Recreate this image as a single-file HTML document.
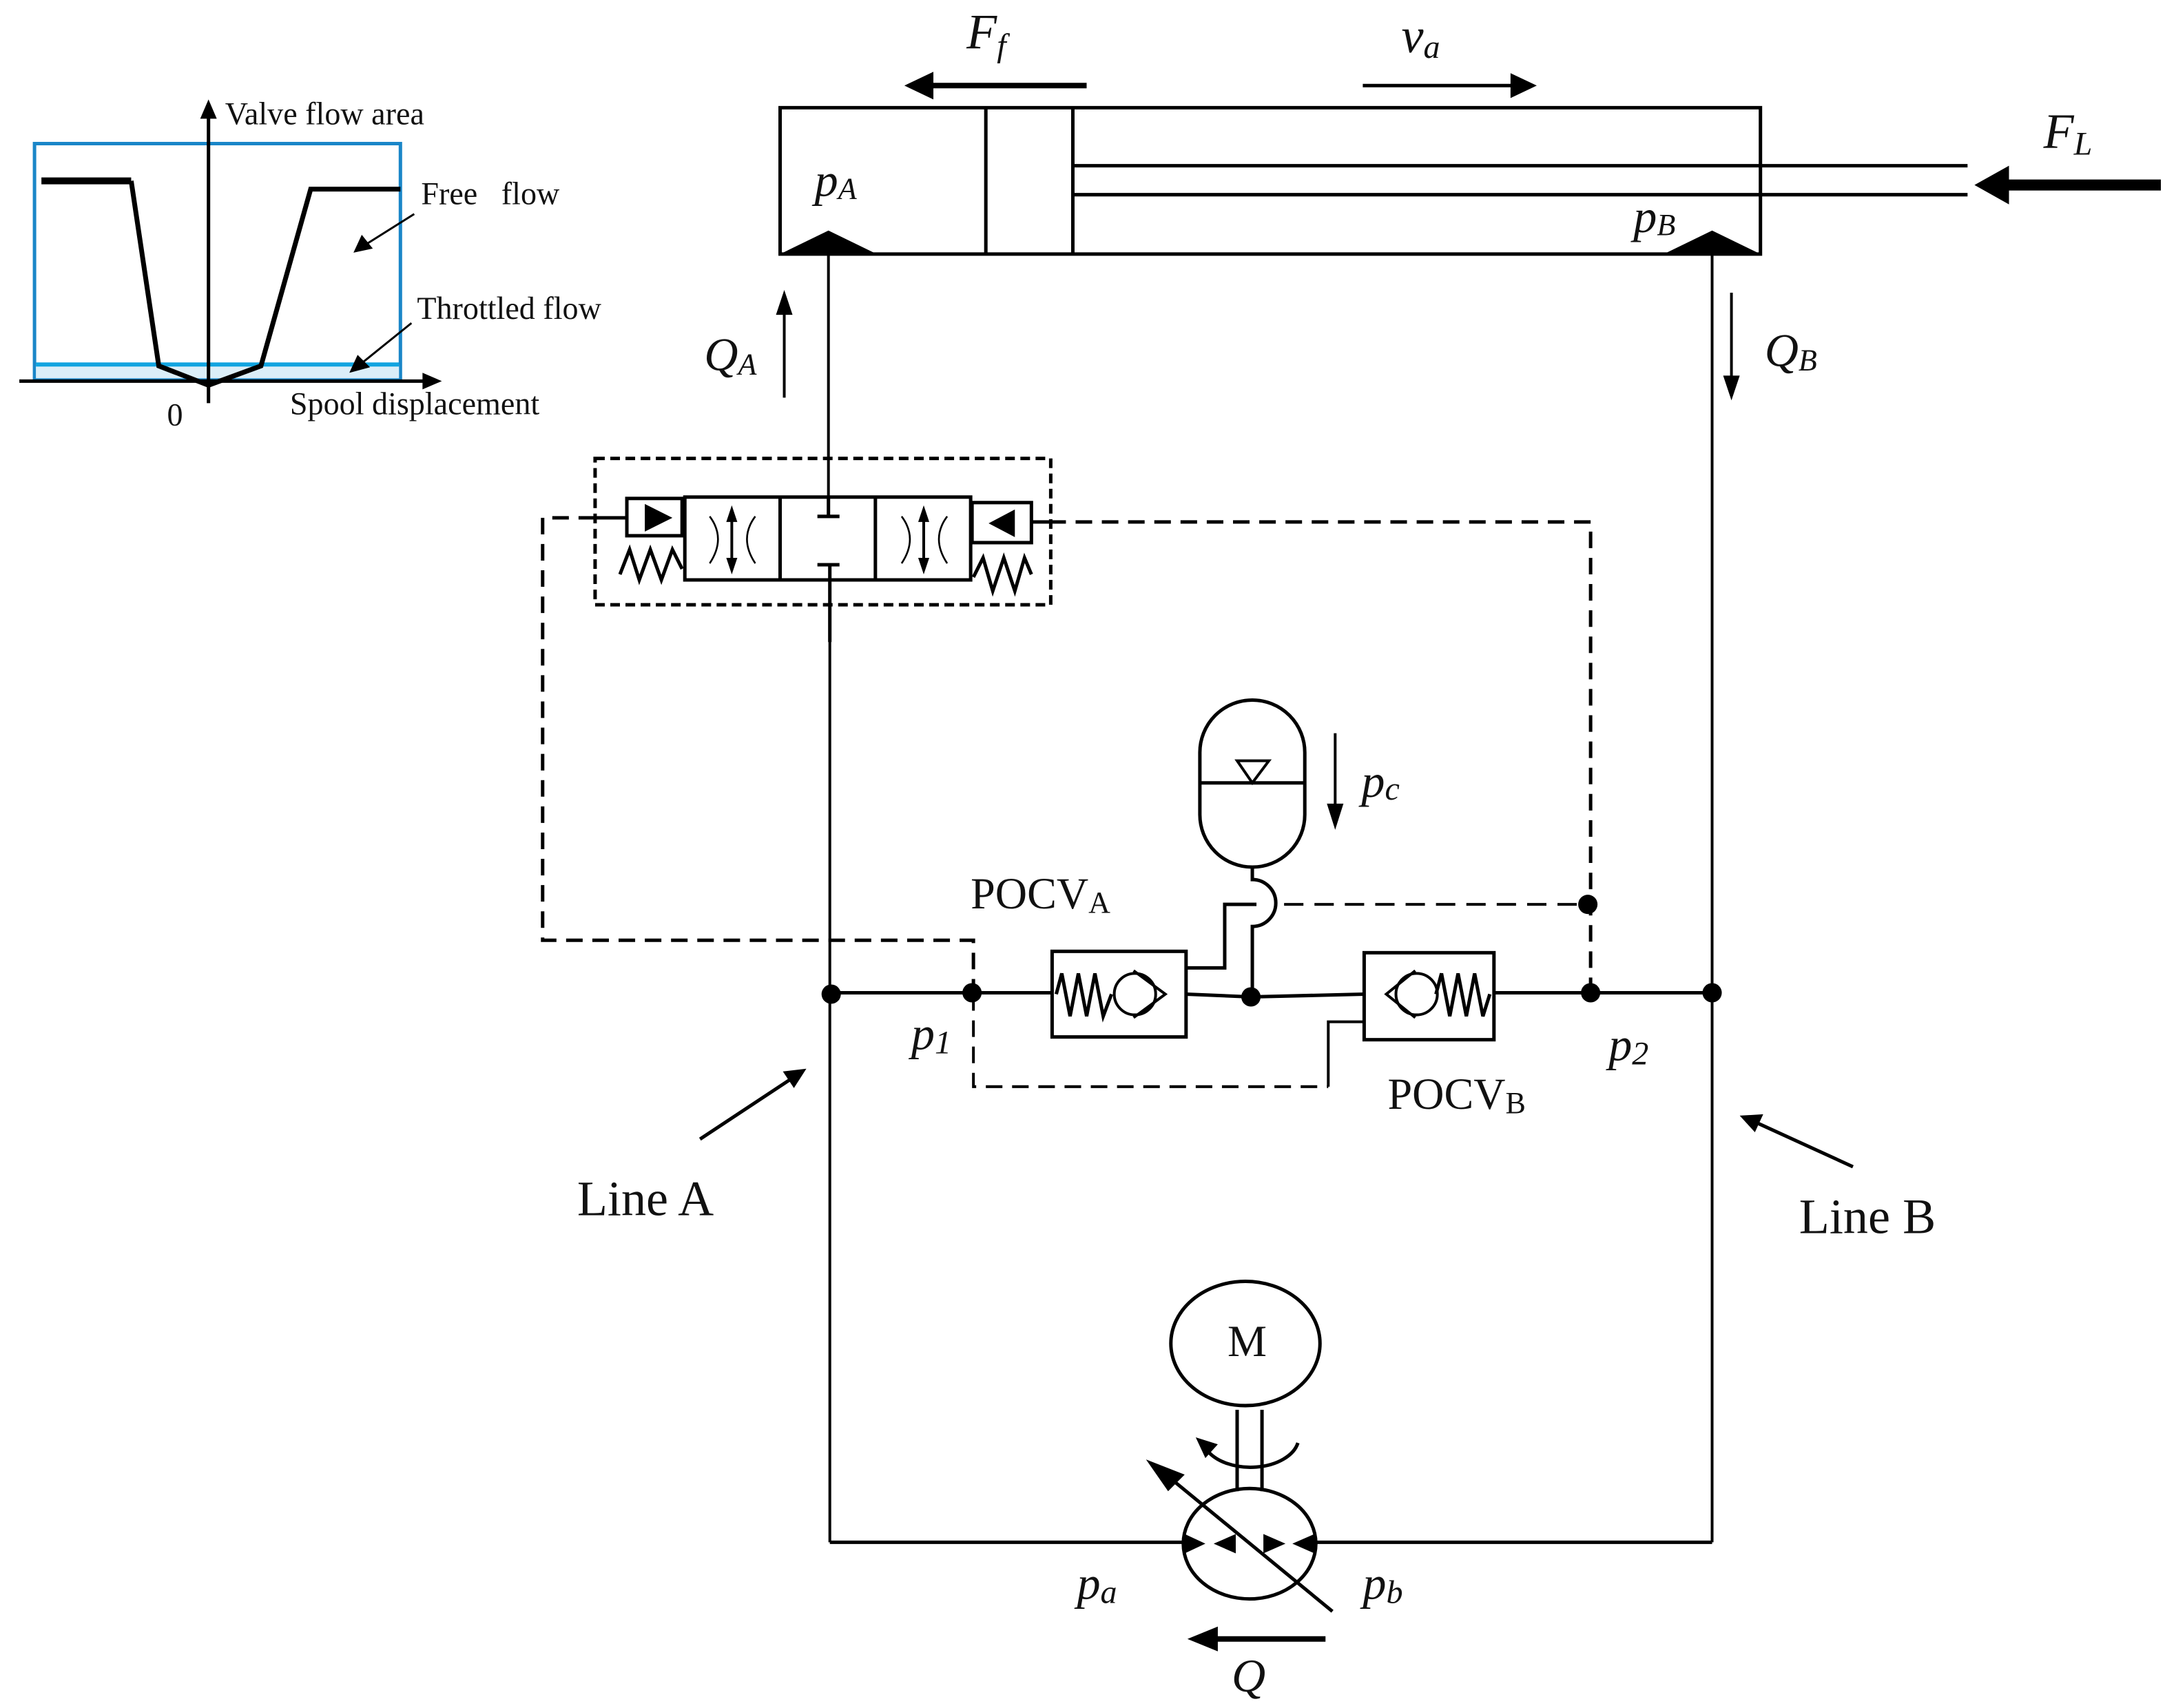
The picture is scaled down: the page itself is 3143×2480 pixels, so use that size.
<!DOCTYPE html>
<html><head><meta charset="utf-8"><style>
html,body{margin:0;padding:0;background:#fff;}
svg{display:block;}
text{font-family:"Liberation Serif",serif;fill:#111;}
.i{font-style:italic;}
</style></head><body>
<svg width="3143" height="2480" viewBox="0 0 1568 1237" preserveAspectRatio="none" xmlns="http://www.w3.org/2000/svg">
<rect width="1568" height="1237" fill="#fff"/>
<g stroke="#000" fill="none" stroke-width="2.5">
<!-- inset graph -->
<rect x="25" y="104" width="265" height="171" stroke="#1a86c8" stroke-width="2.5"/>
<rect x="26" y="264" width="263" height="10" fill="#dbeef8" stroke="none"/>
<line x1="26" y1="264" x2="289" y2="264" stroke="#11a4e0" stroke-width="3"/>
<line x1="151" y1="292" x2="151" y2="82"/>
<path d="M145,86 L151,72 L157,86 z" fill="#000" stroke="none"/>
<line x1="14" y1="276" x2="312" y2="276"/>
<path d="M306,270 L320,276 L306,282 z" fill="#000" stroke="none"/>
<path d="M30,131 L95,131" stroke-width="5"/>
<path d="M95,131 L115,265 L151,279 L189,265 L225,137 L290,137" stroke-width="3.5"/>
<line x1="300" y1="155" x2="265" y2="177" stroke-width="1.5"/>
<path d="M256,183 L262,170 L270,180 z" fill="#000" stroke="none"/>
<line x1="298" y1="234" x2="262" y2="263" stroke-width="1.5"/>
<path d="M253,270 L259,257 L268,266 z" fill="#000" stroke="none"/>

<!-- cylinder -->
<rect x="565" y="78" width="710" height="106" stroke-width="2.5"/>
<line x1="714" y1="78" x2="714" y2="184"/>
<line x1="777" y1="78" x2="777" y2="184"/>
<line x1="777" y1="120" x2="1425" y2="120"/>
<line x1="777" y1="141" x2="1425" y2="141"/>
<path d="M565,184 L600,167 L635,184 z" fill="#000" stroke="none"/>
<path d="M1205,184 L1240,167 L1275,184 z" fill="#000" stroke="none"/>
<!-- force arrows -->
<line x1="787" y1="62" x2="672" y2="62" stroke-width="4"/>
<path d="M676,52 L655,62 L676,72 z" fill="#000" stroke="none"/>
<line x1="987" y1="62" x2="1098" y2="62" stroke-width="2.5"/>
<path d="M1094,53 L1113,62 L1094,71 z" fill="#000" stroke="none"/>
<line x1="1565" y1="134" x2="1450" y2="134" stroke-width="8"/>
<path d="M1455,120 L1430,134 L1455,148 z" fill="#000" stroke="none"/>
<line x1="568" y1="288" x2="568" y2="225" stroke-width="2"/>
<path d="M562,228 L568,210 L574,228 z" fill="#000" stroke="none"/>
<line x1="1254" y1="212" x2="1254" y2="275" stroke-width="2"/>
<path d="M1248,272 L1254,290 L1260,272 z" fill="#000" stroke="none"/>

<!-- main lines -->
<line x1="600" y1="184" x2="600" y2="360" stroke-width="2"/>
<line x1="601" y1="409" x2="601" y2="1117" stroke-width="2"/>
<line x1="1240" y1="184" x2="1240" y2="1117" stroke-width="2"/>
<line x1="601" y1="1117" x2="858" y2="1117" stroke-width="2.5"/>
<line x1="952" y1="1117" x2="1240" y2="1117" stroke-width="2.5"/>
<line x1="601" y1="719" x2="762" y2="719"/>
<line x1="859" y1="720" x2="906" y2="722"/>
<line x1="906" y1="722" x2="988" y2="720"/>
<line x1="1082" y1="719" x2="1240" y2="719"/>

<!-- valve -->
<rect x="431" y="332" width="330" height="106" stroke-dasharray="7,4" stroke-width="2.5"/>
<rect x="454" y="361" width="40" height="27"/>
<path d="M467,365 L487,375 L467,385 z" fill="#000" stroke="none"/>
<path d="M449,416 L456,398 L463,420 L471,398 L479,420 L487,398 L494,412"/>
<rect x="496" y="360" width="207" height="60"/>
<line x1="565" y1="360" x2="565" y2="420"/>
<line x1="634" y1="360" x2="634" y2="420"/>
<line x1="530" y1="370" x2="530" y2="412" stroke-width="2"/>
<path d="M526,378 L530,366 L534,378 z M526,404 L530,416 L534,404 z" fill="#000" stroke="none"/>
<path d="M514,374 Q526,390 514,408 M547,374 Q535,390 547,408" stroke-width="1.3"/>
<line x1="669" y1="370" x2="669" y2="412" stroke-width="2"/>
<path d="M665,378 L669,366 L673,378 z M665,404 L669,416 L673,404 z" fill="#000" stroke="none"/>
<path d="M653,374 Q665,390 653,408 M686,374 Q674,390 686,408" stroke-width="1.3"/>
<line x1="600" y1="360" x2="600" y2="374"/>
<line x1="592" y1="374" x2="608" y2="374"/>
<line x1="592" y1="409" x2="608" y2="409"/>
<line x1="601" y1="409" x2="601" y2="465"/>
<rect x="704" y="364" width="43" height="29"/>
<path d="M735,369 L716,379 L735,389 z" fill="#000" stroke="none"/>
<path d="M705,418 L712,404 L719,428 L727,404 L735,428 L742,404 L747,416"/>
<line x1="431" y1="375" x2="454" y2="375"/>
<line x1="747" y1="378" x2="760" y2="378"/>
<!-- pilot dashed -->
<path d="M431,375 L393,375 L393,681 L705,681 L705,718" stroke-dasharray="12,7" stroke-width="2.5"/>
<path d="M760,378 L1152,378 L1152,718" stroke-dasharray="12,7" stroke-width="2.5"/>
<path d="M705,720 L705,787 L962,787" stroke-dasharray="12,7" stroke-width="2"/>
<path d="M962,787 L962,740 L988,740" stroke-width="2"/>
<line x1="930" y1="655" x2="1150" y2="655" stroke-dasharray="14,8" stroke-width="2"/>

<!-- accumulator -->
<path d="M869,545 L869,590 A38,38 0 0 0 945,590 L945,545 A38,38 0 0 0 869,545 z"/>
<line x1="869" y1="567" x2="945" y2="567"/>
<path d="M896,551 L919,551 L907,567 z" stroke-width="2"/>
<line x1="967" y1="531" x2="967" y2="585" stroke-width="2"/>
<path d="M961,582 L967,601 L973,582 z" fill="#000" stroke="none"/>
<path d="M907,628 L907,637 A17,17 0 0 1 907,671 L907,722" stroke-width="2.5"/>
<path d="M859,701 L887,701 L887,655 L910,655" stroke-width="2.5"/>

<!-- POCV A -->
<rect x="762" y="689" width="97" height="62"/>
<path d="M765,720 L769,705 L775,736 L781,705 L787,736 L793,705 L799,736 L805,720"/>
<circle cx="822" cy="720" r="15" stroke-width="2"/>
<path d="M821,703 L844,720 L821,737" stroke-width="2"/>
<!-- POCV B -->
<rect x="988" y="690" width="94" height="63"/>
<circle cx="1026" cy="720" r="15" stroke-width="2"/>
<path d="M1025,703 L1004,720 L1025,737" stroke-width="2"/>
<path d="M1040,720 L1044,705 L1050,736 L1056,705 L1062,736 L1068,705 L1074,736 L1079,720"/>

<!-- nodes -->
<g fill="#000" stroke="none">
<circle cx="602" cy="720" r="7"/><circle cx="704" cy="719" r="7"/><circle cx="906" cy="722" r="7"/>
<circle cx="1152" cy="719" r="7"/><circle cx="1240" cy="719" r="7"/><circle cx="1150" cy="655" r="7"/>
</g>

<!-- Line A / B arrows -->
<line x1="507" y1="825" x2="572" y2="782" stroke-width="2.5"/>
<path d="M584,774 L567,776 L575,788 z" fill="#000" stroke="none"/>
<line x1="1342" y1="845" x2="1272" y2="813" stroke-width="2.5"/>
<path d="M1260,808 L1277,807 L1271,820 z" fill="#000" stroke="none"/>

<!-- motor & pump -->
<ellipse cx="902" cy="973" rx="54" ry="45"/>
<line x1="896" y1="1021" x2="896" y2="1080"/>
<line x1="914" y1="1021" x2="914" y2="1080"/>
<path d="M940,1045 A35,22 0 0 1 874,1050" stroke-width="2.5"/>
<path d="M866,1041 L882,1046 L873,1056 z" fill="#000" stroke="none"/>
<ellipse cx="905" cy="1118" rx="48" ry="40"/>
<line x1="965" y1="1167" x2="842" y2="1066"/>
<path d="M830,1057 L858,1068 L846,1080 z" fill="#000" stroke="none"/>
<g fill="#000" stroke="none">
<path d="M858,1111 L873,1118 L858,1125 z"/>
<path d="M895,1111 L879,1118 L895,1125 z"/>
<path d="M915,1111 L931,1118 L915,1125 z"/>
<path d="M952,1111 L936,1118 L952,1125 z"/>
</g>
<line x1="960" y1="1187" x2="880" y2="1187" stroke-width="4"/>
<path d="M882,1178 L860,1187 L882,1196 z" fill="#000" stroke="none"/>
</g>

<!-- text -->
<g font-size="23">
<text x="163" y="90">Valve flow area</text>
<text x="305" y="148">Free&#160;&#160; flow</text>
<text x="302" y="231">Throttled flow</text>
<text x="210" y="300">Spool displacement</text>
<text x="121" y="308">0</text>
</g>
<text class="i" x="700" y="35" font-size="36">F<tspan font-size="24" dy="6">f</tspan></text>
<text class="i" x="1015" y="38" font-size="36">v<tspan font-size="24" dy="4">a</tspan></text>
<text class="i" x="1480" y="107" font-size="36">F<tspan font-size="24" dy="5">L</tspan></text>
<text class="i" x="590" y="142" font-size="34">p<tspan font-size="22" dy="2">A</tspan></text>
<text class="i" x="1183" y="168" font-size="34">p<tspan font-size="22" dy="2">B</tspan></text>
<text class="i" x="510" y="268" font-size="34">Q<tspan font-size="22" dy="3">A</tspan></text>
<text class="i" x="1278" y="265" font-size="34">Q<tspan font-size="22" dy="3">B</tspan></text>
<text class="i" x="986" y="577" font-size="34">p<tspan font-size="24" dy="2">c</tspan></text>
<text x="703" y="658" font-size="32">POCV<tspan font-size="22" dy="3">A</tspan></text>
<text x="1005" y="803" font-size="32">POCV<tspan font-size="22" dy="3">B</tspan></text>
<text class="i" x="660" y="760" font-size="34">p<tspan font-size="24" dy="3">1</tspan></text>
<text class="i" x="1165" y="768" font-size="34">p<tspan font-size="24" dy="3">2</tspan></text>
<text x="418" y="880" font-size="36">Line A</text>
<text x="1303" y="893" font-size="36">Line B</text>
<text x="889" y="982" font-size="32">M</text>
<text class="i" x="780" y="1158" font-size="34">p<tspan font-size="24" dy="3">a</tspan></text>
<text class="i" x="987" y="1158" font-size="34">p<tspan font-size="24" dy="3">b</tspan></text>
<text class="i" x="892" y="1225" font-size="34">Q</text>
</svg>
</body></html>
